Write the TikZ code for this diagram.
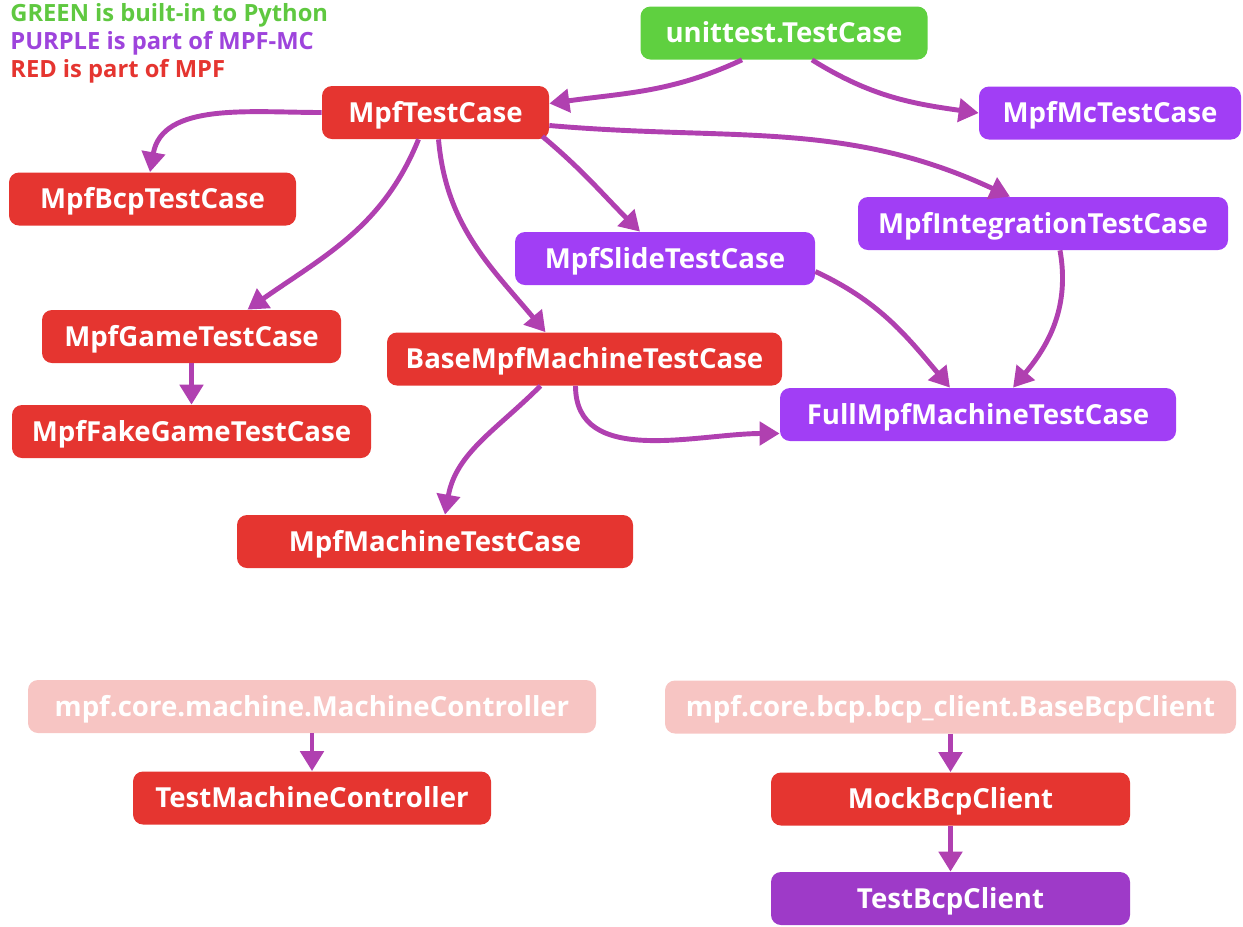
\documentclass[tikz,border=0pt]{standalone}
\usepackage{fontspec}
\setmainfont{Open Sans}
\usetikzlibrary{arrows.meta}

\definecolor{pygreen}{RGB}{95,208,64}
\definecolor{mpfred}{RGB}{229,53,48}
\definecolor{mcpurple}{RGB}{161,62,245}
\definecolor{mcpurpledark}{RGB}{158,58,200}
\definecolor{extpink}{RGB}{247,197,195}
\definecolor{link}{RGB}{176,64,176}
\definecolor{keygreen}{RGB}{95,200,64}
\definecolor{keypurple}{RGB}{158,68,220}

\begin{document}
\begin{tikzpicture}[
  cls/.style={rounded corners=0.2cm, minimum height=1.06cm, text=white,
    font=\fontsize{15.7}{18}\selectfont\bfseries, inner sep=0pt,
    text height=11.2pt, text depth=0pt},
  green/.style={cls, fill=pygreen},
  red/.style={cls, fill=mpfred},
  purple/.style={cls, fill=mcpurple},
  pink/.style={cls, fill=extpink},
  key/.style={anchor=west, font=\fontsize{13.5}{16}\selectfont\bfseries, inner sep=0pt,
    text height=9.6pt, text depth=0pt},
  inherit/.style={draw=link, line width=2.8pt,
    -{Triangle[length=0.4cm, width=0.46cm]}}
]

\def\width{24.86}
\def\height{18.52}

\path [use as bounding box] (0,0) rectangle (\width,-\height);

% LEGEND
\node [key, text=keygreen] (keypy) at (0.2,-0.27) {GREEN is built-in to Python};
\node [key, text=keypurple] (keymc) at (0.2,-0.83) {PURPLE is part of MPF-MC};
\node [key, text=mpfred] (keympf) at (0.2,-1.39) {RED is part of MPF};

% TEST CASES
\node [green, minimum width=5.74cm] (utc) at (15.68,-0.66) {unittest.TestCase};
\node [red, minimum width=4.54cm] (mtc) at (8.71,-2.25) {MpfTestCase};
\node [purple, minimum width=5.24cm] (mmc) at (22.2,-2.26) {MpfMcTestCase};
\node [red, minimum width=5.74cm] (mbtc) at (3.05,-3.98) {MpfBcpTestCase};
\node [purple, minimum width=7.4cm] (mitc) at (20.86,-4.47) {MpfIntegrationTestCase};
\node [purple, minimum width=6.0cm] (mstc) at (13.3,-5.17) {MpfSlideTestCase};
\node [red, minimum width=5.98cm] (mgtc) at (3.83,-6.73) {MpfGameTestCase};
\node [red, minimum width=7.9cm] (bmtc) at (11.69,-7.18) {BaseMpfMachineTestCase};
\node [purple, minimum width=7.92cm] (fmtc) at (19.56,-8.29) {FullMpfMachineTestCase};
\node [red, minimum width=7.18cm] (mfgtc) at (3.83,-8.63) {MpfFakeGameTestCase};
\node [red, minimum width=7.92cm] (mmtc) at (8.7,-10.83) {MpfMachineTestCase};

% HELPERS
\node [pink, minimum width=11.36cm] (mc) at (6.24,-14.13) {mpf.core.machine.MachineController};
\node [red, minimum width=7.16cm] (tmc) at (6.24,-15.96) {TestMachineController};
\node [pink, minimum width=11.42cm] (bbc) at (19.01,-14.14) {mpf.core.bcp.bcp\_client.BaseBcpClient};
\node [red, minimum width=7.18cm] (mock) at (19.01,-15.98) {MockBcpClient};
\node [cls, fill=mcpurpledark, minimum width=7.18cm] (tbc) at (19.01,-17.97) {TestBcpClient};

% INHERITANCE
\draw [inherit] ([xshift=-0.84cm]utc.south) to[out=205, in=8] ([yshift=0.18cm]mtc.east);
\draw [inherit] ([xshift=0.56cm]utc.south) to[out=-32, in=172] (mmc.west);
\draw [inherit] (mtc.west) to[out=180, in=80] ([xshift=-0.05cm]mbtc.north);
\draw [inherit] ([xshift=-0.34cm]mtc.south) to[out=-112, in=35] ([xshift=1.12cm]mgtc.north);
\draw [inherit] ([xshift=0.06cm]mtc.south) to[out=-85, in=130] ([xshift=-0.78cm]bmtc.north);
\draw [inherit] ([xshift=-0.14cm,yshift=0.06cm]mtc.south east) to[out=-40, in=135] ([xshift=-0.5cm]mstc.north);
\draw [inherit] ([yshift=-0.26cm]mtc.east) to[out=-5, in=155] ([xshift=-0.66cm]mitc.north);
\draw [inherit] ([yshift=-0.26cm]mstc.east) to[out=-25, in=130] ([xshift=-0.56cm]fmtc.north);
\draw [inherit] ([xshift=0.34cm]mitc.south) to[out=-80, in=50] ([xshift=0.7cm]fmtc.north);
\draw [inherit] ([xshift=-0.18cm]bmtc.south) to[out=-90, in=180] ([yshift=-0.38cm]fmtc.west);
\draw [inherit] ([xshift=-0.88cm]bmtc.south) to[out=-135, in=80] ([xshift=0.2cm]mmtc.north);
\draw [inherit] (mgtc) -- (mfgtc);
\draw [inherit] (mc) -- (tmc);
\draw [inherit] (bbc) -- (mock);
\draw [inherit] (mock) -- (tbc);

\end{tikzpicture}
\end{document}
